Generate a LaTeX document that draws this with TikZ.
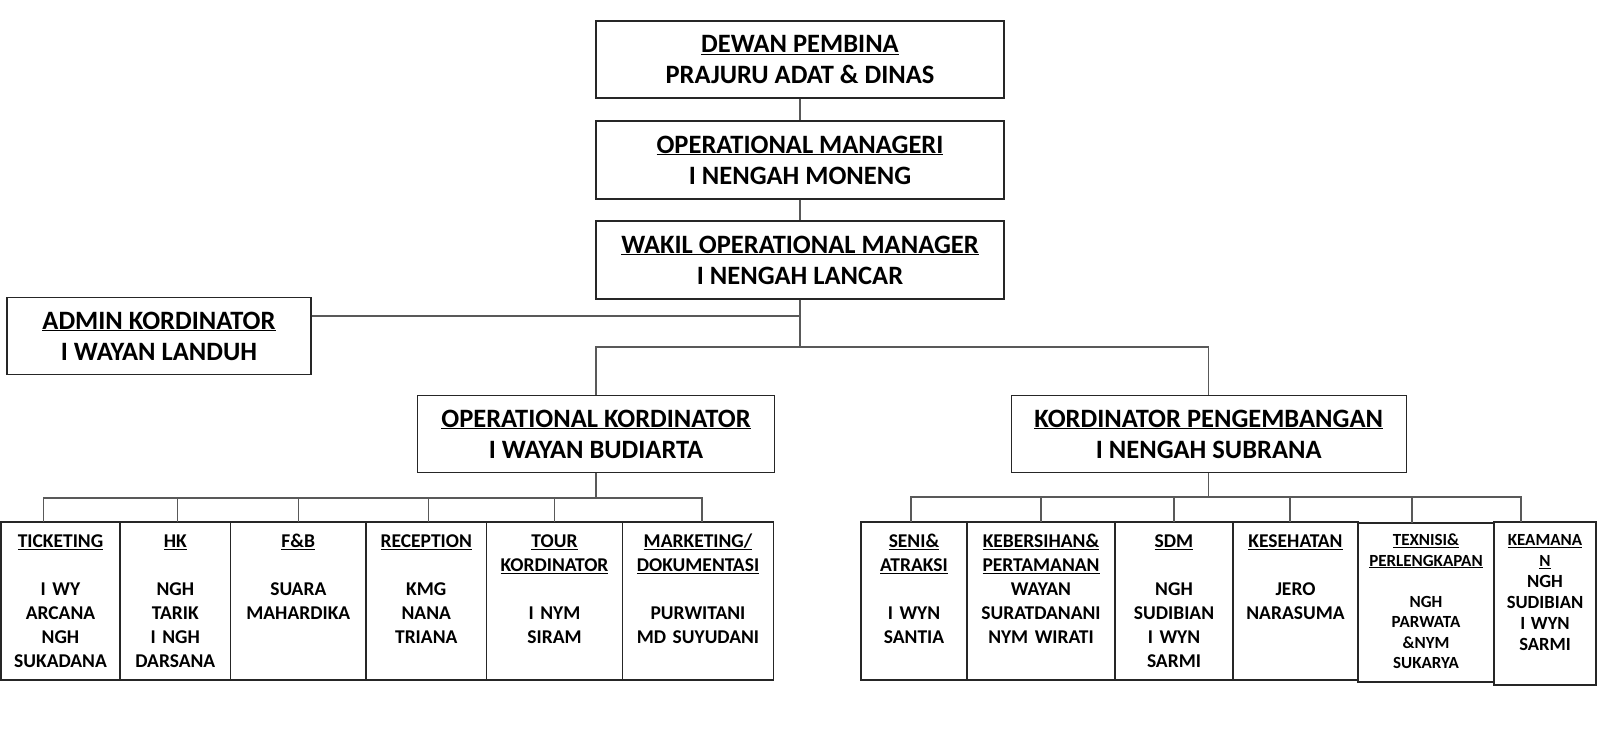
\documentclass[tikz,border=0pt]{standalone}
\usepackage{fontspec}
\setmainfont{Carlito}
\usetikzlibrary{positioning}

\begin{document}
\begin{tikzpicture}[x=1pt, y=-1pt,
  chief/.style={draw=black!85, line width=1.4pt, minimum width=408pt, minimum height=77pt, inner sep=0pt, align=center, font=\bfseries\fontsize{26.5}{31}\selectfont},
  unit/.style={draw=black!85, line width=1.4pt, inner sep=0pt, outer sep=0pt, text width=#1, align=center, text height=25.3pt, text depth=132.7pt, font=\bfseries\fontsize{19.5}{24}\selectfont},
  link/.style={draw=black!65, line width=1.1pt}]
\useasboundingbox (0,0) rectangle (1598,731);

% top of the chart
\node[chief] (dewan) at (800,59.5) {\underline{DEWAN PEMBINA}\\PRAJURU ADAT \& DINAS};
\node[chief, minimum height=78pt] (opman) at (800,160) {\underline{OPERATIONAL MANAGERI}\\I NENGAH MONENG};
\node[chief, minimum height=78pt] (wakil) at (800,260) {\underline{WAKIL OPERATIONAL MANAGER}\\I NENGAH LANCAR};
\node[chief, minimum width=304pt, minimum height=76.5pt] (admin) at (159,336) {\underline{ADMIN KORDINATOR}\\I WAYAN LANDUH};
\node[chief, minimum width=357pt, minimum height=76.5pt] (opkord) at (596,434) {\underline{OPERATIONAL KORDINATOR}\\I WAYAN BUDIARTA};
\node[chief, minimum width=395pt, minimum height=76.5pt] (kordpeng) at (1208.7,434) {\underline{KORDINATOR PENGEMBANGAN}\\I NENGAH SUBRANA};

% left units
\node[unit=119pt, anchor=north west] (tick) at (1,522) {\underline{TICKETING}\\[24pt]I WY\\ARCANA\\NGH\\SUKADANA};
\node[unit=110.6pt, right=0pt of tick] (hk) {\underline{HK}\\[24pt]NGH\\TARIK\\I NGH\\DARSANA};
\node[unit=135.4pt, right=0pt of hk] (fb) {\underline{F\&B}\\[24pt]SUARA\\MAHARDIKA};
\node[unit=120.5pt, right=0pt of fb] (rec) {\underline{RECEPTION}\\[24pt]KMG\\NANA\\TRIANA};
\node[unit=136pt, right=0pt of rec] (tour) {\underline{TOUR}\\\underline{KORDINATOR}\\[24pt]I NYM\\SIRAM};
\node[unit=151pt, right=0pt of tour] (mkt) {\underline{MARKETING/}\\\underline{DOKUMENTASI}\\[24pt]PURWITANI\\MD SUYUDANI};

% right units
\node[unit=106pt, anchor=north west] (seni) at (861,522) {\underline{SENI\&}\\\underline{ATRAKSI}\\[24pt]I WYN\\SANTIA};
\node[unit=148pt, right=0pt of seni] (keb) {\underline{KEBERSIHAN\&}\\\underline{PERTAMANAN}\\WAYAN\\SURATDANANI\\NYM WIRATI};
\node[unit=118pt, right=0pt of keb] (sdm) {\underline{SDM}\\[24pt]NGH\\SUDIBIAN\\I WYN\\SARMI};
\node[unit=125pt, right=0pt of sdm] (kes) {\underline{KESEHATAN}\\[24pt]JERO\\NARASUMA};
\node[unit=136pt, right=0pt of kes, yshift=-1.5pt, text height=22.5pt, text depth=136.5pt, font=\bfseries\fontsize{17}{20.5}\selectfont] (tex) {\underline{TEXNISI\&}\\\underline{PERLENGKAPAN}\\[20.5pt]NGH\\PARWATA\\\&NYM\\SUKARYA};
\node[unit=102pt, right=0pt of tex, yshift=-1pt, text height=23.5pt, text depth=139.5pt, font=\bfseries\fontsize{17}{21}\selectfont] (keam) {\underline{KEAMANA}\\\underline{N}\\\fontsize{18.6}{21}\selectfont NGH\\SUDIBIAN\\I WYN\\SARMI};

\coordinate (adminjoin) at (800,316);
\coordinate (split) at (800,347);
\coordinate (leftbar) at (596,498);
\coordinate (rightbar) at (1208.7,497);

\draw [link] (dewan) -- (opman);
\draw [link] (opman) -- (wakil);
\draw [link] (wakil) -- (split);
\draw [link] (admin.east |- adminjoin) -- (adminjoin);
\draw [link] (opkord) -- (opkord |- split) -- (kordpeng |- split) -- (kordpeng);
\draw [link] (opkord) -- (leftbar);
\draw [link] ([xshift=-17pt]tick.north) -- ([xshift=-17pt]tick.north |- leftbar) -- ([xshift=4pt]mkt.north |- leftbar) -- ([xshift=4pt]mkt.north);
\draw [link] ([xshift=2pt]hk.north) -- ([xshift=2pt]hk.north |- leftbar);
\draw [link] (fb) -- (fb |- leftbar);
\draw [link] ([xshift=2pt]rec.north) -- ([xshift=2pt]rec.north |- leftbar);
\draw [link] (tour) -- (tour |- leftbar);
\draw [link] (kordpeng) -- (rightbar);
\draw [link] ([xshift=-3pt]seni.north) -- ([xshift=-3pt]seni.north |- rightbar) -- ([xshift=-24pt]keam.north |- rightbar) -- ([xshift=-24pt]keam.north);
\draw [link] (keb) -- (keb |- rightbar);
\draw [link] (sdm) -- (sdm |- rightbar);
\draw [link] ([xshift=-5.5pt]kes.north) -- ([xshift=-5.5pt]kes.north |- rightbar);
\draw [link] ([xshift=-14pt]tex.north) -- ([xshift=-14pt]tex.north |- rightbar);
\end{tikzpicture}
\end{document}
